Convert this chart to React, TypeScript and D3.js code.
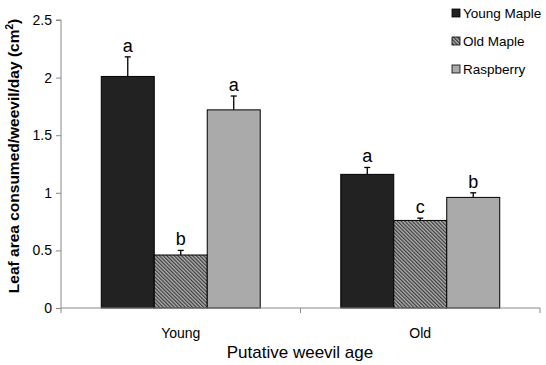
import React, { useEffect, useRef } from 'react';
import * as d3 from 'd3';

// weevil age groups
const ages = ['Young', 'Old'];
// food types (legend order)
const foods = ['Young Maple', 'Old Maple', 'Raspberry'];
// mean leaf area consumed, per age, per food
const youngMeans = [2.01, 0.46, 1.72];
const oldMeans = [1.16, 0.76, 0.96];
// standard errors (upper only)
const youngErr = [0.17, 0.04, 0.12];
const oldErr = [0.06, 0.02, 0.04];
// significance letters
const youngLetters = ['a', 'b', 'a'];
const oldLetters = ['a', 'c', 'b'];
const yTicks = [0, 0.5, 1, 1.5, 2, 2.5];

const App = () => {
  const ref = useRef<SVGSVGElement>(null);

  useEffect(() => {
    const svg = d3.select(ref.current);
    svg.selectAll('*').remove();
    const font = 'Arial, Liberation Sans, sans-serif';

    const left = 61, right = 540, top = 20, bottom = 308;

    const defs = svg.append('defs');
    const pat = defs.append('pattern')
      .attr('id', 'hatch')
      .attr('patternUnits', 'userSpaceOnUse')
      .attr('width', 2.6).attr('height', 2.6)
      .attr('patternTransform', 'rotate(-45)');
    pat.append('rect').attr('width', 2.6).attr('height', 2.6).attr('fill', '#b0b0b0');
    pat.append('rect').attr('width', 1.2).attr('height', 2.6).attr('fill', '#3a3a3a');

    const fills = ['#222222', 'url(#hatch)', '#aaaaaa'];

    const x0 = d3.scaleBand().domain(ages).range([left, right]);
    const x1 = d3.scaleBand().domain(foods).range([0, x0.bandwidth()]).paddingOuter(0.76).paddingInner(0);
    const y = d3.scaleLinear().domain([0, 2.5]).range([bottom, top]);

    const rows = ages.map((a, i) => ({
      age: a,
      means: i === 0 ? youngMeans : oldMeans,
      errs: i === 0 ? youngErr : oldErr,
      letters: i === 0 ? youngLetters : oldLetters,
    }));

    // bars
    rows.forEach(r => {
      const g = svg.append('g').attr('transform', `translate(${x0(r.age)},0)`);
      foods.forEach((f, j) => {
        const bx = x1(f)!;
        const bw = x1.bandwidth();
        const cx = bx + bw / 2;
        const top = y(r.means[j] + r.errs[j]);
        g.append('line').attr('x1', cx).attr('x2', cx)
          .attr('y1', y(r.means[j])).attr('y2', top)
          .attr('stroke', '#000').attr('stroke-width', 1.3);
        g.append('line').attr('x1', cx - 3).attr('x2', cx + 3)
          .attr('y1', top).attr('y2', top)
          .attr('stroke', '#000').attr('stroke-width', 1.3);
        g.append('rect')
          .attr('x', bx).attr('y', y(r.means[j]))
          .attr('width', bw).attr('height', y(0) - y(r.means[j]))
          .attr('fill', fills[j]).attr('stroke', '#000').attr('stroke-width', 1);
        g.append('text')
          .attr('x', cx).attr('y', top - 5)
          .attr('text-anchor', 'middle')
          .attr('font-family', font).attr('font-size', 18)
          .text(r.letters[j]);
      });
    });

    // y axis
    const ya = svg.append('g').attr('transform', `translate(${left},0)`)
      .call(d3.axisLeft(y).tickValues(yTicks).tickSize(5).tickPadding(4).tickFormat(d => String(d)));
    ya.select('.domain').attr('stroke', '#888').attr('d', `M-5,${y(2.5)}H0V${y(0)}`);
    ya.selectAll('.tick line').attr('stroke', '#888');
    ya.selectAll('.tick text').attr('font-family', font).attr('font-size', 14).attr('fill', '#000');

    // x axis
    const xa = svg.append('g');
    xa.append('line').attr('x1', left).attr('x2', right).attr('y1', bottom).attr('y2', bottom)
      .attr('stroke', '#888');
    [left, left + x0.bandwidth(), right].forEach(t => {
      xa.append('line').attr('x1', t).attr('x2', t).attr('y1', bottom).attr('y2', bottom + 5)
        .attr('stroke', '#888');
    });
    ages.forEach(a => {
      xa.append('text')
        .attr('x', x0(a)! + x0.bandwidth() / 2).attr('y', bottom + 30)
        .attr('text-anchor', 'middle')
        .attr('font-family', font).attr('font-size', 14)
        .text(a);
    });

    // axis titles
    svg.append('text')
      .attr('x', 300).attr('y', 358)
      .attr('text-anchor', 'middle')
      .attr('font-family', font).attr('font-size', 17)
      .text('Putative weevil age');

    const yt = svg.append('text')
      .attr('transform', `translate(19,156) rotate(-90)`)
      .attr('text-anchor', 'middle')
      .attr('font-family', font).attr('font-size', 15.5).attr('font-weight', 'bold');
    yt.append('tspan').text('Leaf area consumed/weevil/day (cm');
    yt.append('tspan').attr('dy', -6).attr('font-size', 10).text('2');
    yt.append('tspan').attr('dy', 6).text(')');

    // legend
    foods.forEach((f, i) => {
      const ly = 13 + i * 28;
      svg.append('rect')
        .attr('x', 452).attr('y', ly - 4).attr('width', 8).attr('height', 8)
        .attr('fill', fills[i]).attr('stroke', '#000').attr('stroke-width', 0.8);
      svg.append('text')
        .attr('x', 463).attr('y', ly + 5)
        .attr('font-family', font).attr('font-size', 13.5)
        .text(f);
    });
  }, []);

  return (
    <svg ref={ref} width={546} height={365}
      style={{ position: 'absolute', left: 0, top: 0, background: '#fff' }} />
  );
};

export default App;
